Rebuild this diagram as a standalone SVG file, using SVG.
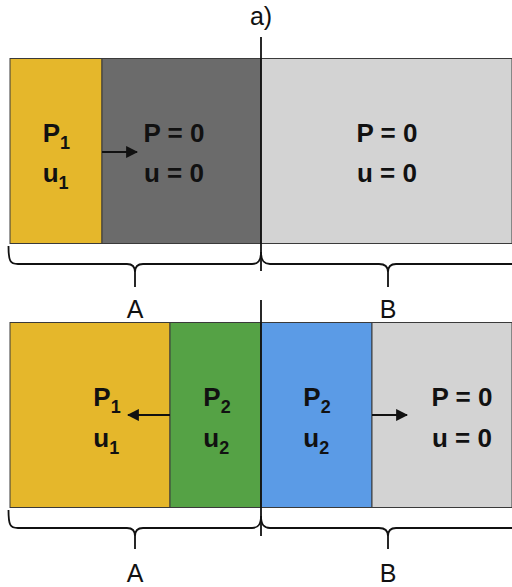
<svg xmlns="http://www.w3.org/2000/svg" width="512" height="587" viewBox="0 0 512 587">
<defs>
<style>
.cell{stroke:#3a3a3a;stroke-width:1}
.lbl{font-family:"Liberation Sans",Arial,sans-serif;font-weight:bold;font-size:26px;fill:#111}
.sub{font-size:18px}
.tag{font-family:"Liberation Sans",Arial,sans-serif;font-size:25px;fill:#111;text-anchor:middle}
.brace{fill:none;stroke:#111;stroke-width:1.8}
.axis{stroke:#111;stroke-width:1.8}
.arr{stroke:#111;stroke-width:2.2;fill:none}
</style>
<marker id="ah" viewBox="0 0 10 10" refX="9" refY="5" markerWidth="5.5" markerHeight="5.5" orient="auto" markerUnits="strokeWidth">
<path d="M0,0 L10,5 L0,10 z" fill="#111"/>
</marker>
</defs>
<rect width="512" height="587" fill="#fff"/>
<text class="tag" x="261" y="25" font-size="24">a)</text>

<g id="top-yellow">
<rect class="cell" x="10" y="58.5" width="92" height="185" fill="#E5B72B"/>
<text class="lbl" x="42.7" y="142">P<tspan class="sub" dy="7">1</tspan></text>
<text class="lbl" x="42.7" y="182">u<tspan class="sub" dy="7">1</tspan></text>
</g>
<g id="top-darkgray">
<rect class="cell" x="102" y="58.5" width="159" height="185" fill="#6B6B6B"/>
<text class="lbl" x="174" y="142" text-anchor="middle">P = 0</text>
<text class="lbl" x="174" y="182" text-anchor="middle">u = 0</text>
</g>
<g id="top-lightgray">
<rect class="cell" x="261" y="58.5" width="251" height="185" fill="#D3D3D3"/>
<text class="lbl" x="387" y="142" text-anchor="middle">P = 0</text>
<text class="lbl" x="387" y="182" text-anchor="middle">u = 0</text>
</g>

<g id="bot-yellow">
<rect class="cell" x="10" y="322.5" width="160" height="185" fill="#E5B72B"/>
<text class="lbl" x="93.3" y="405.7">P<tspan class="sub" dy="7">1</tspan></text>
<text class="lbl" x="93.3" y="447">u<tspan class="sub" dy="7">1</tspan></text>
</g>
<g id="bot-green">
<rect class="cell" x="170" y="322.5" width="91" height="185" fill="#55A245"/>
<text class="lbl" x="203.3" y="405.7">P<tspan class="sub" dy="7">2</tspan></text>
<text class="lbl" x="203.3" y="447">u<tspan class="sub" dy="7">2</tspan></text>
</g>
<g id="bot-blue">
<rect class="cell" x="261" y="322.5" width="111" height="185" fill="#5B9BE6"/>
<text class="lbl" x="303.3" y="405.7">P<tspan class="sub" dy="7">2</tspan></text>
<text class="lbl" x="303.3" y="447">u<tspan class="sub" dy="7">2</tspan></text>
</g>
<g id="bot-lightgray">
<rect class="cell" x="372" y="322.5" width="140" height="185" fill="#D3D3D3"/>
<text class="lbl" x="462" y="405.7" text-anchor="middle">P = 0</text>
<text class="lbl" x="462" y="447" text-anchor="middle">u = 0</text>
</g>

<g id="braces">
<path class="brace" d="M8.5,246 C8.5,261 10,264 18,264 H127 C132,264 135,266 135,272 V287 M135,272 C135,266 138,264 143,264 H252 C258,264 261,261 261,252 C261,261 264,264 270,264 H379 C384,264 388,266 388,272 V287 M388,272 C388,266 391,264 396,264 H512"/>
<path class="brace" d="M8.5,510 C8.5,525 10,528 18,528 H127 C132,528 135,530 135,536 V549 M135,536 C135,530 138,528 143,528 H252 C258,528 261,525 261,516 C261,525 264,528 270,528 H379 C384,528 388,530 388,536 V549 M388,536 C388,530 391,528 396,528 H512"/>
<text class="tag" x="135" y="318">A</text>
<text class="tag" x="388" y="318">B</text>
<text class="tag" x="135" y="582">A</text>
<text class="tag" x="388" y="582">B</text>
</g>

<g id="connectors">
<line class="axis" x1="261" y1="37" x2="261" y2="271"/>
<line class="axis" x1="261" y1="300" x2="261" y2="536"/>
<line class="arr" x1="102" y1="152" x2="137" y2="152" marker-end="url(#ah)"/>
<line class="arr" x1="170" y1="415" x2="128" y2="415" marker-end="url(#ah)"/>
<line class="arr" x1="372" y1="415" x2="407" y2="415" marker-end="url(#ah)"/>
</g>
</svg>
